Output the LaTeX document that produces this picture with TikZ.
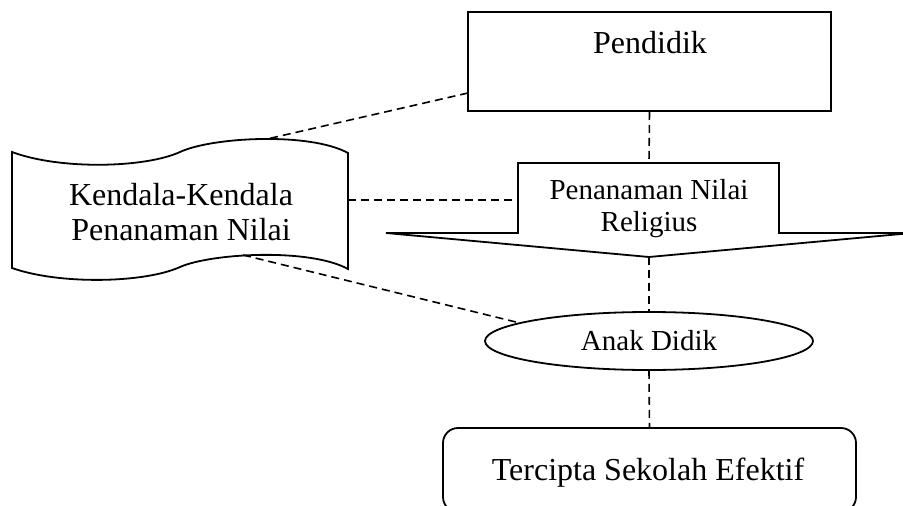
\documentclass[tikz,border=0pt]{standalone}
\usepackage{fontspec}
\setmainfont{Liberation Serif}
\usetikzlibrary{shapes.geometric}
\begin{document}
\begin{tikzpicture}[x=1pt,y=-1pt,
  figline/.style={draw=black, line width=1.8pt},
  conn/.style={draw=black, line width=1.6pt, dash pattern=on 8pt off 5pt},
  bigtxt/.style={font=\fontsize{32}{35}\selectfont, inner sep=0pt},
  midtxt/.style={font=\fontsize{29}{32}\selectfont, inner sep=0pt}]
\useasboundingbox (0,0) rectangle (903,506);
\clip (0,0) rectangle (903,506);

% Pendidik
\node[figline, minimum width=363pt, minimum height=99pt, inner sep=0pt] (pend) at (649.5,61.5) {};
\node[bigtxt, anchor=base] (pendt) at (650,53) {Pendidik};
\coordinate (pendL) at (468,93);

% Kendala (tape)
\draw[figline] (12,152) .. controls (60,170) and (145,168) .. (180,152)
  .. controls (212,137) and (310,132) .. (348,153) -- (348,269)
  .. controls (310,248) and (212,253) .. (180,267)
  .. controls (145,283) and (60,285) .. (12,268) -- cycle;
\node[bigtxt, align=center] (ken) at (181,212.5) {Kendala-Kendala\\Penanaman Nilai};
\coordinate (kenTop) at (267,139);
\coordinate (kenRight) at (348,200);
\coordinate (kenBot) at (243,255);

% Arrow
\draw[figline, line join=miter] (518,163) -- (779,163) -- (779,233) -- (912,233) -- (649,257)
  -- (386,233) -- (518,233) -- cycle;
\node[midtxt, align=center] (arr) at (649,209) {Penanaman Nilai\\Religius};
\coordinate (arrTop) at (649,163);
\coordinate (arrLeft) at (518,200);
\coordinate (arrTip) at (649,257);

% Anak Didik
\node[figline, ellipse, minimum width=328pt, minimum height=58pt, inner sep=0pt,
  font=\fontsize{29}{32}\selectfont] (anak) at (649,341) {Anak Didik};

% Tercipta
\node[figline, rounded corners=15pt, minimum width=413pt, minimum height=84pt, inner sep=0pt] (goal) at (649.5,470) {};
\node[bigtxt, anchor=base] (goalt) at (648,480) {Tercipta Sekolah Efektif};

% connectors
\draw[conn] (pendL) -- (kenTop);
\draw[conn] (pend.south) -- (arrTop);
\draw[conn] (kenRight) -- (arrLeft);
\draw[conn] (kenBot) -- (anak.172.6);
\draw[conn] (arrTip) -- (anak.north);
\draw[conn] (anak.south) -- (goal.north);
\end{tikzpicture}
\end{document}
